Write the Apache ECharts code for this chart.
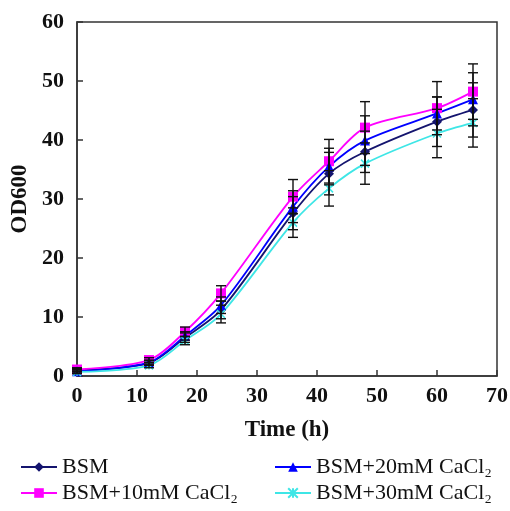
<!DOCTYPE html>
<html><head><meta charset="utf-8">
<script src="https://cdn.jsdelivr.net/npm/echarts@6/dist/echarts.min.js"></script>
<style>html,body{margin:0;padding:0;background:#fff}#c{width:510px;height:511px}</style>
</head><body><div id="c"></div>
<script>
const times = [0, 12, 18, 24, 36, 42, 48, 60, 66];
const seriesNames = ['BSM', 'BSM+10mM CaCl₂', 'BSM+20mM CaCl₂', 'BSM+30mM CaCl₂'];
const bsm   = [1.0, 2.2, 6.5, 11.2, 27.6, 34.3, 38.0, 43.1, 45.1];
const ca10  = [1.1, 2.7, 7.5, 14.0, 30.4, 36.4, 42.1, 45.4, 48.2];
const ca20  = [0.8, 2.3, 6.8, 12.0, 28.7, 35.5, 39.9, 44.5, 46.9];
const ca30  = [0.7, 1.8, 6.0, 10.5, 26.0, 31.8, 36.0, 41.1, 42.9];
const bsmErr  = [0.3, 0.4, 0.8, 1.5, 2.8, 3.6, 3.5, 4.2, 4.6];
const ca10Err = [0.3, 0.4, 0.8, 1.3, 2.9, 3.7, 4.4, 4.5, 4.7];
const ca20Err = [0.3, 0.4, 0.7, 1.4, 2.7, 3.1, 4.2, 2.8, 4.5];
const ca30Err = [0.3, 0.4, 0.7, 1.5, 2.5, 3.0, 3.5, 4.1, 4.1];
const xTicks = [0, 10, 20, 30, 40, 50, 60, 70];
const yTicks = [0, 10, 20, 30, 40, 50, 60];

const colors = ['#14146e', '#ff00ff', '#0000ff', '#3ee6e6'];
const symbols = ['diamond', 'rect', 'triangle', 'path://M0,0L10,10M10,0L0,10M5,0L5,10'];
const values = [bsm, ca10, ca20, ca30];
const errs = [bsmErr, ca10Err, ca20Err, ca30Err];
const font = 'Liberation Serif';

const series = [];
values.forEach((vals, i) => {
  series.push({
    name: seriesNames[i], type: 'line', smooth: 0.3,
    data: vals.map((v, j) => [times[j], v]),
    symbol: symbols[i], symbolSize: i === 3 ? 8 : 10,
    lineStyle: { color: colors[i], width: 1.8 },
    itemStyle: i === 3 ? { color: colors[i], borderColor: colors[i], borderWidth: 1.5 } : { color: colors[i] },
    z: 3
  });
});
values.forEach((vals, i) => {
  series.push({
    type: 'custom', silent: true, z: 4,
    data: vals.map((v, j) => [times[j], v - errs[i][j], v + errs[i][j]]),
    renderItem: function (params, api) {
      const lo = api.coord([api.value(0), api.value(1)]);
      const hi = api.coord([api.value(0), api.value(2)]);
      const w = 5;
      const st = { stroke: '#111', lineWidth: 1.4 };
      return { type: 'group', children: [
        { type: 'line', shape: { x1: lo[0], y1: lo[1], x2: hi[0], y2: hi[1] }, style: st },
        { type: 'line', shape: { x1: lo[0] - w, y1: lo[1], x2: lo[0] + w, y2: lo[1] }, style: st },
        { type: 'line', shape: { x1: hi[0] - w, y1: hi[1], x2: hi[0] + w, y2: hi[1] }, style: st }
      ]};
    }
  });
});

const legendText = { fontFamily: font, fontSize: 22, color: '#111' };
const chart = echarts.init(document.getElementById('c'), null, { renderer: 'canvas' });
chart.setOption({
  animation: false,
  backgroundColor: '#fff',
  grid: { left: 77, right: 13, top: 22, bottom: 135, show: true, borderColor: '#333', borderWidth: 1.5,
          containLabel: false, outerBoundsMode: 'none' },
  xAxis: {
    type: 'value', min: xTicks[0], max: xTicks[xTicks.length - 1], interval: 10,
    name: 'Time (h)', nameLocation: 'middle', nameGap: 43,
    nameTextStyle: { fontFamily: font, fontSize: 23, fontWeight: 'bold', color: '#111' },
    axisLine: { lineStyle: { color: '#333', width: 1.5 } },
    axisTick: { inside: true, length: 6, lineStyle: { color: '#333', width: 1.5 } },
    axisLabel: { fontFamily: font, fontSize: 22, fontWeight: 'bold', color: '#111', margin: 9 },
    splitLine: { show: false }
  },
  yAxis: {
    type: 'value', min: yTicks[0], max: yTicks[yTicks.length - 1], interval: 10,
    name: 'OD600', nameLocation: 'middle', nameGap: 44,
    nameTextStyle: { fontFamily: font, fontSize: 23, fontWeight: 'bold', color: '#111' },
    axisLine: { show: true, lineStyle: { color: '#333', width: 1.5 } },
    axisTick: { show: true, inside: true, length: 6, lineStyle: { color: '#333', width: 1.5 } },
    axisLabel: { fontFamily: font, fontSize: 22, fontWeight: 'bold', color: '#111', margin: 13 },
    splitLine: { show: false }
  },
  legend: [
    { data: [seriesNames[0], seriesNames[1]], orient: 'vertical', left: 20, top: 456, itemGap: 4,
      itemWidth: 36, itemHeight: 12, textStyle: legendText, padding: 0 },
    { data: [seriesNames[2], seriesNames[3]], orient: 'vertical', left: 274, top: 456, itemGap: 4,
      itemWidth: 36, itemHeight: 12, textStyle: legendText, padding: 0 }
  ],
  series: series
});
</script></body></html>
